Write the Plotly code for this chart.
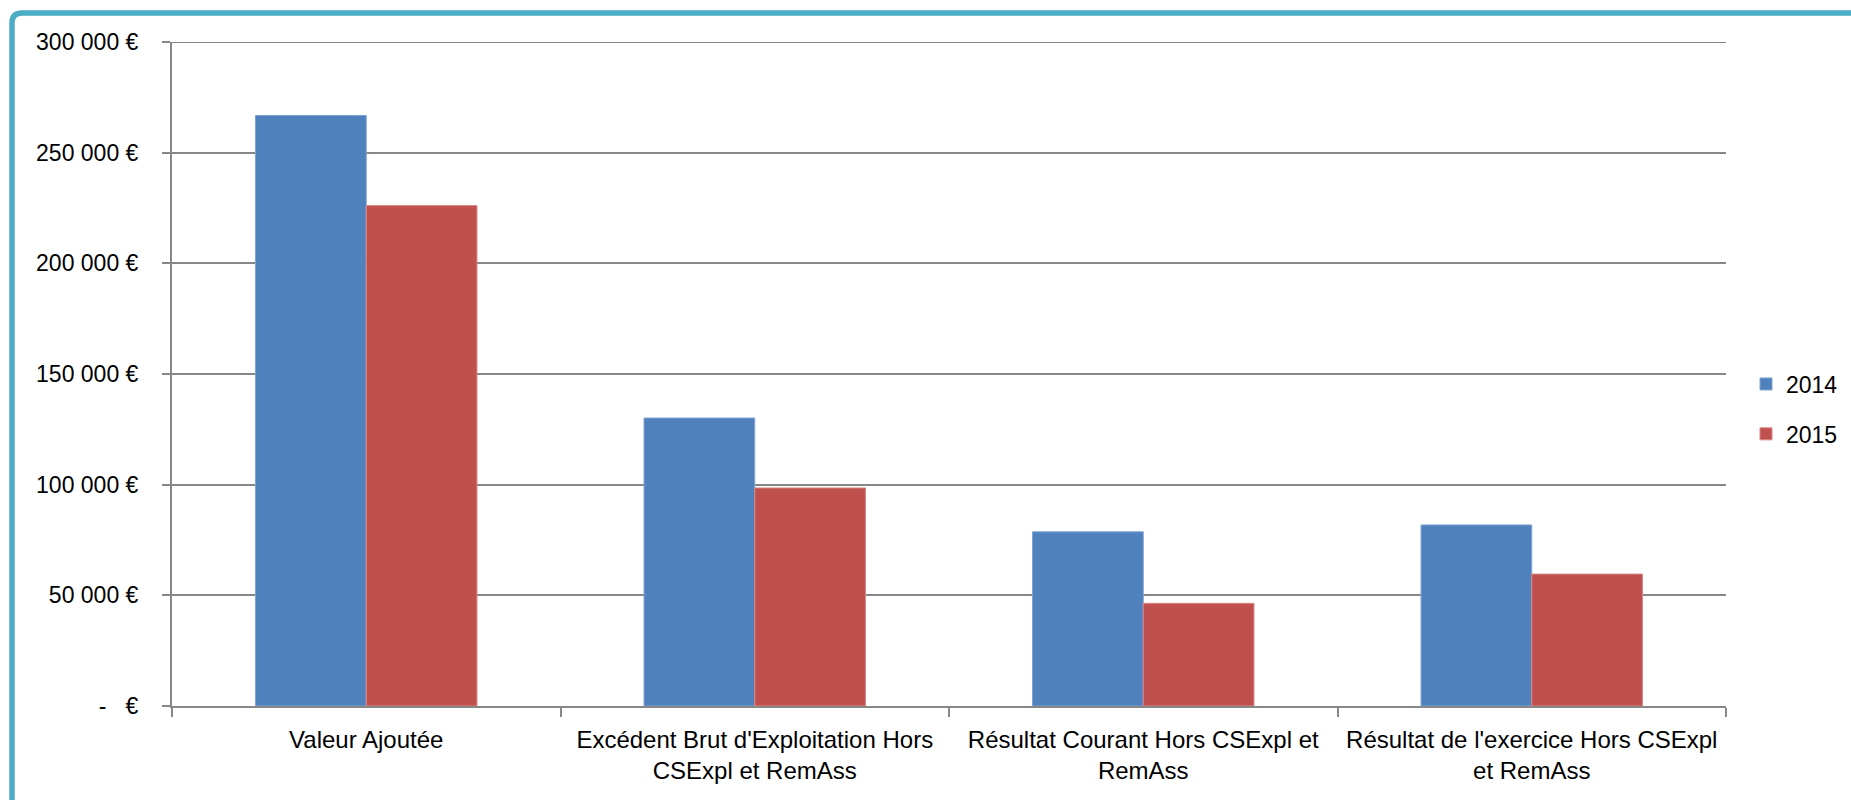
import plotly.graph_objects as go

categories = [
    "Valeur Ajoutée",
    "Excédent Brut d'Exploitation Hors<br>CSExpl et RemAss",
    "Résultat Courant Hors CSExpl et<br>RemAss",
    "Résultat de l'exercice Hors CSExpl<br>et RemAss",
]
values_2014 = [266800, 130100, 78700, 81800]
values_2015 = [226100, 98500, 46400, 59600]
series_names = ["2014", "2015"]
tick_values = [0, 50000, 100000, 150000, 200000, 250000, 300000]
tick_labels = ["-\u00a0\u00a0\u00a0€", "50 000 €", "100 000 €", "150 000 €",
               "200 000 €", "250 000 €", "300 000 €"]

FONT = "Liberation Sans, Arial, sans-serif"
W, H = 1851, 800
L, R, T, B = 172, 1851 - 1726, 42, 800 - 706
pw, ph = W - L - R, H - T - B

fig = go.Figure()
fig.add_trace(go.Bar(name=series_names[0], x=categories, y=values_2014,
                     marker=dict(color="#4F81BD", line=dict(color="#7FA3D3", width=1)),
                     legendgroup="a"))
fig.add_trace(go.Bar(name=series_names[1], x=categories, y=values_2015,
                     marker=dict(color="#C0504D", line=dict(color="#D98785", width=1)),
                     legendgroup="b"))

def px_x(x):
    return (x - L) / pw

def px_y(y):
    return (H - B - y) / ph

# top gridline at the range end
fig.add_shape(type="line", xref="paper", yref="y", x0=0, x1=1,
              y0=tick_values[-1], y1=tick_values[-1],
              line=dict(color="#878787", width=2), layer="below")

# frame (blue border, rounded top-left corner)
bx, by, r = 12, 13, 10
path = (f"M {px_x(bx)} {px_y(900)} L {px_x(bx)} {px_y(by + r)} "
        f"Q {px_x(bx)} {px_y(by)} {px_x(bx + r)} {px_y(by)} L {px_x(1950)} {px_y(by)}")
fig.add_shape(type="path", path=path, xref="paper", yref="paper",
              line=dict(color="#4BACC6", width=5.5), layer="above")

fig.update_layout(
    width=W, height=H,
    margin=dict(l=L, r=R, t=T, b=B, autoexpand=False),
    paper_bgcolor="white", plot_bgcolor="white",
    barmode="group", bargap=0.43, bargroupgap=0,
    font=dict(family=FONT, size=23, color="#000000"),
    legend=dict(x=px_x(1746), xanchor="left", y=px_y(409), yanchor="middle",
                traceorder="grouped", tracegroupgap=17,
                font=dict(family=FONT, size=23, color="#000000"),
                bgcolor="rgba(0,0,0,0)"),
    showlegend=True,
)
fig.update_xaxes(
    showline=True, linecolor="#878787", linewidth=2,
    ticks="outside", tickson="boundaries", ticklen=9, tickcolor="#878787", tickwidth=2,
    showgrid=False, tickfont=dict(family=FONT, size=24, color="#000000"),
    ticklabelstandoff=11,
)
fig.update_yaxes(
    range=[0, 300000], tickvals=tick_values, ticktext=tick_labels,
    showline=True, linecolor="#878787", linewidth=2,
    ticks="outside", ticklen=8, tickcolor="#878787", tickwidth=2,
    showgrid=True, gridcolor="#878787", gridwidth=2, zeroline=False,
    tickfont=dict(family=FONT, size=23, color="#000000"),
    ticklabelstandoff=19,
)

fig.write_html("out.html", config={"displayModeBar": False},
               post_script="document.body.style.margin='0';")
